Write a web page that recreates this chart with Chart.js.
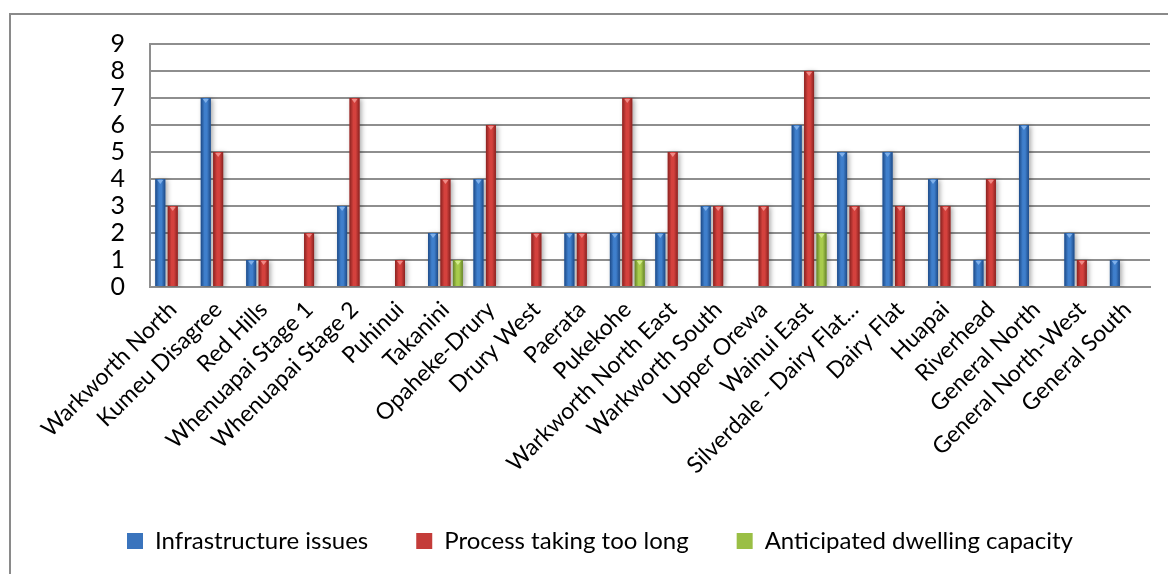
<!DOCTYPE html>
<html>
<head>
<meta charset="utf-8">
<script src="https://cdn.jsdelivr.net/npm/chart.js@4.4.1/dist/chart.umd.min.js"></script>
<style>
  html, body { margin: 0; padding: 0; background: #ffffff; }
  #wrap { width: 1168px; height: 574px; position: relative; }
</style>
</head>
<body>
<div id="wrap"><canvas id="chart" width="1168" height="574"></canvas></div>
<script>
const categories = [
  'Warkworth North', 'Kumeu Disagree', 'Red Hills', 'Whenuapai Stage 1', 'Whenuapai Stage 2',
  'Puhinui', 'Takanini', 'Opaheke-Drury', 'Drury West', 'Paerata', 'Pukekohe',
  'Warkworth North East', 'Warkworth South', 'Upper Orewa', 'Wainui East',
  'Silverdale - Dairy Flat...', 'Dairy Flat', 'Huapai', 'Riverhead', 'General North',
  'General North-West', 'General South'
];
const infrastructureIssues = [4, 7, 1, 0, 3, 0, 2, 4, 0, 2, 2, 2, 3, 0, 6, 5, 5, 4, 1, 6, 2, 1];
const processTakingTooLong = [3, 5, 1, 2, 7, 1, 4, 6, 2, 2, 7, 5, 3, 3, 8, 3, 3, 3, 4, 0, 1, 0];
const anticipatedCapacity  = [0, 0, 0, 0, 0, 0, 1, 0, 0, 0, 1, 0, 0, 0, 2, 0, 0, 0, 0, 0, 0, 0];
const yMin = 0, yMax = 9, yStep = 1;

const FONT = 'Lato, "Open Sans", sans-serif';
const GRID = '#8e8e8e';

// shading for each series: [edge, highlight, cap]
const shades = [
  ['#1d4a87', '#3f7fcc', '#7fb0ea'],
  ['#8a2220', '#d4413d', '#f08a86'],
  ['#66842a', '#a8cb4c', '#d2ec8c']
];

// page frame drawn around the whole chart
const framePlugin = {
  id: 'frame',
  beforeDraw(chart) {
    const ctx = chart.ctx;
    ctx.save();
    ctx.fillStyle = '#ffffff';
    ctx.fillRect(0, 0, chart.width, chart.height);
    ctx.strokeStyle = '#8a8a8a';
    ctx.lineWidth = 2;
    ctx.strokeRect(10, 14, chart.width + 20, chart.height + 20);
    ctx.restore();
  }
};

// soft drop shadow under the bars, then a cylindrical shading on top of each bar
const barShadePlugin = {
  id: 'barShade',
  beforeDatasetsDraw(chart) {
    const ctx = chart.ctx;
    ctx.save();
    ctx.shadowColor = 'rgba(0,0,0,0.35)';
    ctx.shadowBlur = 5;
    ctx.shadowOffsetX = 2;
    ctx.shadowOffsetY = 1;
  },
  afterDatasetsDraw(chart) {
    const ctx = chart.ctx;
    ctx.restore();
    ctx.save();
    chart.data.datasets.forEach((ds, di) => {
      const meta = chart.getDatasetMeta(di);
      const s = shades[di];
      meta.data.forEach((bar, i) => {
        if (!ds.data[i]) return;
        const p = bar.getProps(['x', 'y', 'base', 'width'], true);
        const l = p.x - p.width / 2, r = p.x + p.width / 2;
        const g = ctx.createLinearGradient(l, 0, r, 0);
        g.addColorStop(0, s[0]);
        g.addColorStop(0.38, s[1]);
        g.addColorStop(0.62, s[1]);
        g.addColorStop(1, s[0]);
        ctx.fillStyle = g;
        ctx.fillRect(l, p.y, p.width, p.base - p.y);
        // bevelled cap
        ctx.fillStyle = s[2];
        ctx.beginPath();
        ctx.moveTo(l + 2, p.y + 1);
        ctx.lineTo(r - 2, p.y + 1);
        ctx.lineTo(p.x, p.y + 5);
        ctx.closePath();
        ctx.fill();
      });
    });
    ctx.restore();
  }
};

const PAD = { top: 44, right: 18, bottom: 11, left: 50 };

new Chart(document.getElementById('chart'), {
  type: 'bar',
  data: {
    labels: categories,
    datasets: [
      { label: 'Infrastructure issues', data: infrastructureIssues, backgroundColor: '#3a74bd', borderColor: '#1d4a87', borderWidth: 0 },
      { label: 'Process taking too long', data: processTakingTooLong, backgroundColor: '#c43c39', borderColor: '#8a2220', borderWidth: 0 },
      { label: 'Anticipated dwelling capacity', data: anticipatedCapacity, backgroundColor: '#9abf45', borderColor: '#66842a', borderWidth: 0 }
    ]
  },
  options: {
    responsive: false,
    animation: false,
    devicePixelRatio: 1,
    layout: { padding: PAD },
    datasets: { bar: { categoryPercentage: 0.82, barPercentage: 0.8 } },
    plugins: {
      tooltip: { enabled: false },
      legend: {
        position: 'bottom',
        labels: {
          font: { family: FONT, size: 24 },
          color: '#000000',
          boxWidth: 16,
          boxHeight: 16,
          padding: 48
        }
      }
    },
    scales: {
      x: {
        grid: { display: false, drawTicks: false },
        border: { display: true, color: GRID, width: 2 },
        ticks: {
          font: { family: FONT, size: 23 },
          color: '#000000',
          minRotation: 45,
          maxRotation: 45,
          autoSkip: false,
          padding: 9
        },
        afterFit(scale) {
          const lg = scale.chart.legend;
          const lh = lg ? lg.height : 0;
          scale.height = scale.chart.height - PAD.bottom - lh - 287;
        }
      },
      y: {
        min: yMin,
        max: yMax,
        grid: { color: GRID, lineWidth: 2, drawTicks: false },
        border: { display: true, color: GRID, width: 2 },
        ticks: {
          stepSize: yStep,
          autoSkip: false,
          font: { family: FONT, size: 25 },
          color: '#000000',
          padding: 25
        },
        afterFit(scale) { scale.width = 100; }
      }
    }
  },
  plugins: [framePlugin, barShadePlugin]
});
</script>
</body>
</html>
